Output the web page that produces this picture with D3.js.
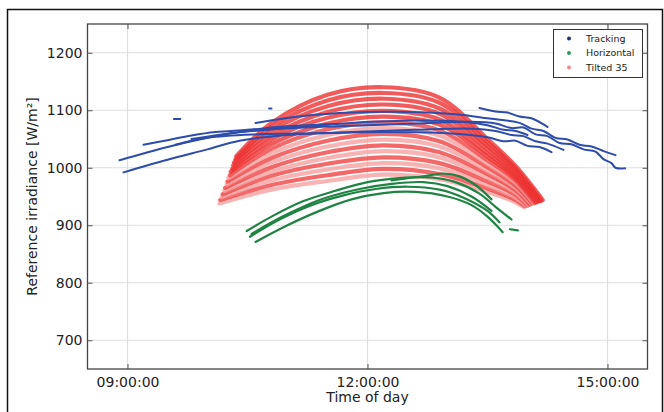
<!DOCTYPE html>
<html><head><meta charset="utf-8">
<script src="https://cdn.jsdelivr.net/npm/d3@7/dist/d3.min.js"></script>
<style>body{margin:0;background:#fff}svg{display:block}text{font-family:"DejaVu Sans",sans-serif}</style>
</head><body><svg id="c" width="664" height="412"></svg>
<script>
// ---------- data (hours of day, W/m²) ----------
const seriesNames = ["Tracking", "Horizontal", "Tilted 35"];
const xTickValues = [9, 12, 15];
const xTickLabels = ["09:00:00", "12:00:00", "15:00:00"];
const yTickValues = [700, 800, 900, 1000, 1100, 1200];
const xTitle = "Time of day";
const yTitle = "Reference irradiance [W/m²]";

const trackingTraces = [
  [[10.6,1078],[11.2,1090],[11.8,1096],[12.5,1097],[13.1,1093],[13.5,1086],[13.9,1078],[14.05,1068],[14.2,1064],[14.35,1052],[14.5,1049],[14.65,1040],[14.8,1037],[14.95,1029],[15.1,1022]],
  [[13.4,1104],[13.6,1098],[13.75,1096],[13.9,1089],[14.05,1086],[14.25,1071]],
  [[8.9,1013],[9.5,1036],[10.0,1052],[10.4,1062],[11.2,1070],[12.0,1074],[12.8,1078],[13.3,1080],[13.6,1077],[13.8,1069],[13.95,1070],[14.1,1058],[14.25,1055],[14.4,1043],[14.55,1041],[14.7,1032],[14.85,1028],[14.95,1015],[15.05,1008],[15.1,1000],[15.22,999]],
  [[8.95,992],[9.5,1014],[10.0,1032],[10.4,1047],[11.0,1057],[11.8,1062],[12.6,1066],[13.3,1068],[13.6,1064],[13.8,1057],[13.95,1055],[14.1,1046],[14.25,1042],[14.45,1031]],
  [[9.6,1040],[10.0,1052],[10.6,1058],[11.4,1060],[12.2,1062],[13.0,1060],[13.5,1053],[13.7,1046],[13.85,1047],[14.0,1038],[14.15,1036],[14.3,1027]],
  [[9.8,1050],[10.3,1060],[11.0,1070],[11.8,1078],[12.6,1082],[13.2,1080],[13.5,1074],[13.7,1066],[13.85,1064],[14.0,1057]],
  [[9.2,1040],[9.5,1048],[9.8,1056],[10.1,1062],[10.5,1066],[11.0,1072],[11.6,1076]],
  [[9.58,1085],[9.66,1085]],
  [[10.77,1103],[10.8,1103]]
];

const horizontalTraces = [
  [[10.49,890],[10.8,915],[11.2,942],[11.6,960],[12.0,975],[12.4,982],[12.8,983],[13.1,975],[13.4,955],[13.6,932],[13.8,910]],
  [[10.53,880],[10.9,910],[11.3,935],[11.7,952],[12.1,963],[12.5,967],[12.9,962],[13.2,948],[13.5,925],[13.65,905]],
  [[10.6,871],[11.0,900],[11.4,925],[11.8,945],[12.2,956],[12.6,958],[13.0,950],[13.3,935],[13.5,915],[13.69,888]],
  [[10.55,885],[10.95,916],[11.4,944],[11.9,963],[12.3,972],[12.7,975],[13.0,968],[13.3,950],[13.55,925]],
  [[12.3,978],[12.5,982],[12.7,985],[12.95,990],[13.15,985],[13.35,970],[13.55,945]],
  [[13.78,893],[13.88,891]]
];

const tiltedTraces = [
  [[10.15,938],[10.8,962],[11.5,977],[12.2,988],[12.9,980],[13.5,958],[13.85,940],[13.95,932]],
  [[10.16,944],[10.8,970],[11.5,987],[12.2,998],[12.9,989],[13.5,964],[13.85,944],[13.97,933]],
  [[10.18,949],[10.8,978],[11.5,997],[12.2,1008],[12.9,999],[13.5,970],[13.85,948],[13.98,934]],
  [[10.19,954],[10.8,986],[11.5,1007],[12.2,1018],[12.9,1008],[13.5,976],[13.85,953],[14.0,934]],
  [[10.21,960],[10.8,993],[11.5,1017],[12.2,1029],[12.9,1018],[13.5,983],[13.85,957],[14.01,935]],
  [[10.22,965],[10.8,1001],[11.5,1027],[12.2,1039],[12.9,1027],[13.5,989],[13.85,961],[14.03,936]],
  [[10.24,971],[10.8,1009],[11.5,1037],[12.2,1049],[12.9,1037],[13.5,995],[13.85,965],[14.05,937]],
  [[10.25,976],[10.8,1017],[11.5,1047],[12.2,1059],[12.9,1046],[13.5,1001],[13.85,969],[14.06,938]],
  [[10.26,982],[10.8,1025],[11.5,1057],[12.2,1069],[12.9,1056],[13.5,1007],[13.85,974],[14.08,938]],
  [[10.28,987],[10.8,1033],[11.5,1067],[12.2,1079],[12.9,1065],[13.5,1013],[13.85,978],[14.09,939]],
  [[10.29,993],[10.8,1041],[11.5,1077],[12.2,1089],[12.9,1075],[13.5,1019],[13.85,982],[14.11,940]],
  [[10.31,998],[10.8,1049],[11.5,1087],[12.2,1099],[12.9,1084],[13.5,1025],[13.85,986],[14.13,941]],
  [[10.32,1004],[10.8,1056],[11.5,1097],[12.2,1110],[12.9,1094],[13.5,1032],[13.85,990],[14.14,942]],
  [[10.33,1009],[10.8,1064],[11.5,1107],[12.2,1120],[12.9,1103],[13.5,1038],[13.85,995],[14.16,942]],
  [[10.35,1015],[10.8,1071],[11.5,1117],[12.2,1130],[12.9,1113],[13.5,1044],[13.85,999],[14.17,943]],
  [[10.36,1020],[10.8,1078],[11.5,1127],[12.2,1140],[12.9,1122],[13.5,1050],[13.85,1003],[14.19,944]]
];

// ---------- drawing ----------
const plot = {left: 87.5, right: 647.5, top: 24, bottom: 369};
const svg = d3.select("#c");

const x = d3.scaleLinear().domain([8.5, 15.5]).range([plot.left, plot.right]);
const y = d3.scaleLinear().domain([650, 1250]).range([plot.bottom, plot.top]);

// outer frame
svg.append("rect").attr("x", 7.5).attr("y", 9.5).attr("width", 655).attr("height", 420)
  .attr("fill", "none").attr("stroke", "#111").attr("stroke-width", 1.5);

// grid
const g = svg.append("g");
g.selectAll(".gx").data(xTickValues).join("line")
  .attr("x1", d => x(d)).attr("x2", d => x(d)).attr("y1", plot.top).attr("y2", plot.bottom)
  .attr("stroke", "#dedede").attr("stroke-width", 1.2);
g.selectAll(".gy").data(yTickValues).join("line")
  .attr("x1", plot.left).attr("x2", plot.right).attr("y1", d => y(d)).attr("y2", d => y(d))
  .attr("stroke", "#dedede").attr("stroke-width", 1.2);

const line = d3.line().x(d => x(d[0])).y(d => y(d[1])).curve(d3.curveCatmullRom.alpha(0.5));

const marks = svg.append("g");
const nRed = tiltedTraces.length;
marks.selectAll(".red").data(tiltedTraces).join("path")
  .attr("d", line).attr("fill", "none")
  .attr("stroke", (d, i) => (i >= nRed - 6) ? "#ee3232" : (i % 2 ? "#f04444" : "#f6a0a0"))
  .attr("stroke-opacity", 0.8).attr("stroke-width", 4.2).attr("stroke-linecap", "round");
marks.selectAll(".green").data(horizontalTraces).join("path")
  .attr("d", line).attr("fill", "none").attr("stroke", "#1f8443")
  .attr("stroke-width", 2.2).attr("stroke-linecap", "round");
marks.selectAll(".blue").data(trackingTraces).join("path")
  .attr("d", line).attr("fill", "none").attr("stroke", "#2d4cab")
  .attr("stroke-width", 2).attr("stroke-linecap", "round");

// axes (inward ticks, classic style)
const fmt = d3.format("d");
const axB = d3.axisBottom(x).tickValues(xTickValues).tickFormat((d, i) => xTickLabels[i]).tickSizeInner(-5).tickSizeOuter(0).tickPadding(8);
const axT = d3.axisTop(x).tickValues(xTickValues).tickFormat("").tickSizeInner(-5).tickSizeOuter(0);
const axL = d3.axisLeft(y).tickValues(yTickValues).tickFormat(fmt).tickSizeInner(-5).tickSizeOuter(0).tickPadding(5);
const axR = d3.axisRight(y).tickValues(yTickValues).tickFormat("").tickSizeInner(-5).tickSizeOuter(0);

function style(sel) {
  sel.select(".domain").remove();
  sel.selectAll(".tick line").attr("stroke", "#555");
  sel.selectAll("text").attr("fill", "#222").attr("font-size", 14).attr("font-family", "DejaVu Sans");
}
svg.append("g").attr("transform", `translate(0,${plot.bottom})`).call(axB).call(style);
svg.append("g").attr("transform", `translate(0,${plot.top})`).call(axT).call(style);
svg.append("g").attr("transform", `translate(${plot.left},0)`).call(axL).call(style);
svg.append("g").attr("transform", `translate(${plot.right},0)`).call(axR).call(style);

// spines
svg.append("rect").attr("x", plot.left).attr("y", plot.top)
  .attr("width", plot.right - plot.left).attr("height", plot.bottom - plot.top)
  .attr("fill", "none").attr("stroke", "#444").attr("stroke-width", 1.3);

// titles
svg.append("text").attr("x", (plot.left + plot.right) / 2).attr("y", 402)
  .attr("text-anchor", "middle").attr("font-size", 14).attr("fill", "#222").text(xTitle);
svg.append("text").attr("transform", `translate(37,${(plot.top + plot.bottom) / 2}) rotate(-90)`)
  .attr("text-anchor", "middle").attr("font-size", 14).attr("fill", "#222").text(yTitle);

// legend
const legendColors = ["#22336e", "#2a9a5a", "#f08a8a"];
const lg = svg.append("g");
lg.append("rect").attr("x", 553.5).attr("y", 29.5).attr("width", 89).attr("height", 48)
  .attr("fill", "#fff").attr("stroke", "#333").attr("stroke-width", 1);
seriesNames.forEach((name, i) => {
  const yy = 38.5 + i * 14.5;
  lg.append("circle").attr("cx", 569).attr("cy", yy).attr("r", 2).attr("fill", legendColors[i]);
  lg.append("text").attr("x", 586).attr("y", yy + 3.3).attr("font-size", 9.5).attr("fill", "#222").text(name);
});
</script></body></html>
